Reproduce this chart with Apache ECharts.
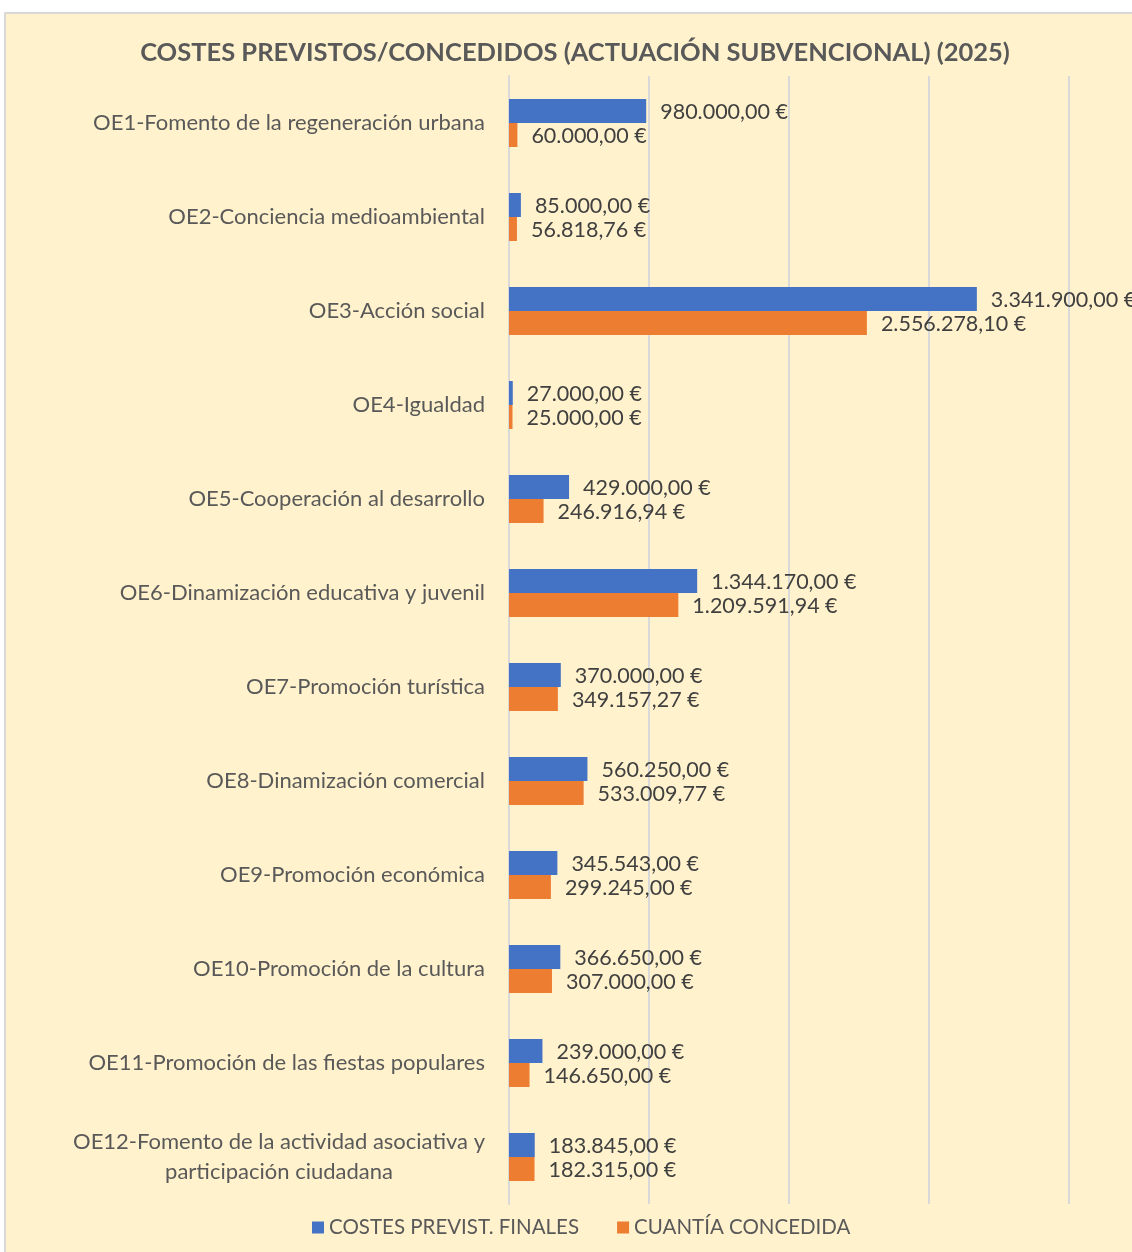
<!DOCTYPE html>
<html><head><meta charset="utf-8">
<script src="https://cdn.jsdelivr.net/npm/echarts@6/dist/echarts.min.js"></script>
<style>
html,body{margin:0;padding:0;background:#fff;width:1132px;height:1252px;overflow:hidden;}
#box{position:absolute;left:4px;top:12px;width:1150px;height:1260px;background:#FFF2CC;border:2px solid #D9D9D9;box-sizing:border-box;}
#main{position:absolute;left:0;top:0;width:1132px;height:1252px;}
</style></head>
<body><div id="box"></div><div id="main"></div>
<script>
const categories = [
  "OE1-Fomento de la regeneración urbana",
  "OE2-Conciencia medioambiental",
  "OE3-Acción social",
  "OE4-Igualdad",
  "OE5-Cooperación al desarrollo",
  "OE6-Dinamización educativa y juvenil",
  "OE7-Promoción turística",
  "OE8-Dinamización comercial",
  "OE9-Promoción económica",
  "OE10-Promoción de la cultura",
  "OE11-Promoción de las fiestas populares",
  "OE12-Fomento de la actividad asociativa y\nparticipación ciudadana"
];
const costesPrevistos = [980000, 85000, 3341900, 27000, 429000, 1344170, 370000, 560250, 345543, 366650, 239000, 183845];
const cuantiaConcedida = [60000, 56818.76, 2556278.10, 25000, 246916.94, 1209591.94, 349157.27, 533009.77, 299245, 307000, 146650, 182315];
const seriesNames = ["COSTES PREVIST. FINALES", "CUANTÍA CONCEDIDA"];
const titleText = "COSTES PREVISTOS/CONCEDIDOS (ACTUACIÓN SUBVENCIONAL) (2025)";

function fmtEuro(v){
  const parts = v.toFixed(2).split('.');
  const intPart = parts[0].replace(/\B(?=(\d{3})+(?!\d))/g, '.');
  return intPart + ',' + parts[1] + ' €';
}
const FONT = 'Lato';
const chart = echarts.init(document.getElementById('main'));
const labelCfg = {show:true, position:'right', distance:14, offset:[0,1.5], color:'#404040', fontSize:21.5, fontFamily:FONT, formatter:p=>fmtEuro(p.value)};
chart.setOption({
  backgroundColor:'transparent',
  animation:false,
  title:{text:titleText, left:570, textAlign:'center', top:35, textStyle:{fontFamily:FONT, fontWeight:'bold', fontSize:25.5, color:'#595959'}},
  grid:{left:509, right:63, top:76, bottom:48, containLabel:false},
  legend:{left:307, top:1212, itemWidth:12, itemHeight:12, itemGap:38, icon:'rect',
    textStyle:{fontFamily:FONT, fontSize:20.5, color:'#595959'}},
  xAxis:{type:'value', min:0, max:4000000, interval:1000000,
    axisLabel:{show:false}, axisTick:{show:false}, axisLine:{show:false},
    splitLine:{show:true, lineStyle:{color:'#D9D9D9', width:2}}},
  yAxis:{type:'category', inverse:true, data:categories,
    axisTick:{show:false},
    axisLine:{show:true, lineStyle:{color:'#D9D9D9', width:2}},
    axisLabel:{margin:24, color:'#595959', fontSize:22, fontFamily:FONT, lineHeight:30,
      formatter:function(v){
        if(v.indexOf('\n')>=0){
          return v.split('\n').map(s=>'{c|'+s+'}').join('\n');
        }
        return v;
      },
      rich:{c:{width:412, align:'center', fontSize:22, fontFamily:FONT, color:'#595959', lineHeight:30}}
    }},
  series:[
    {name:seriesNames[0], type:'bar', data:costesPrevistos, barWidth:24, barGap:'0%', itemStyle:{color:'#4472C4'}, label:labelCfg},
    {name:seriesNames[1], type:'bar', data:cuantiaConcedida, barWidth:24, barGap:'0%', itemStyle:{color:'#ED7D31'}, label:labelCfg}
  ]
});
</script></body></html>
